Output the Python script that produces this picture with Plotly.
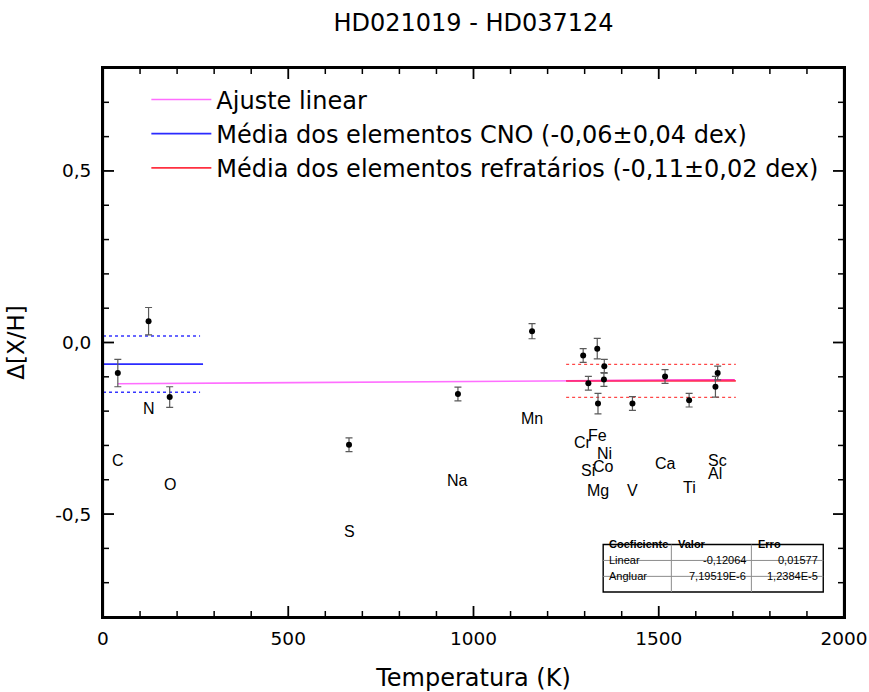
import plotly.graph_objects as go

# Differential abundances vs. 50% condensation temperature
elements = ["C", "N", "O", "S", "Na", "Mn", "Cr", "Fe", "Ni", "Co",
            "Si", "Mg", "V", "Ca", "Ti", "Sc", "Al"]
tcond = [40, 123, 180, 664, 958, 1158, 1296, 1334, 1353, 1352,
         1310, 1336, 1429, 1517, 1582, 1659, 1653]
delta_xh = [-0.089, 0.062, -0.159, -0.298, -0.150, 0.033, -0.038, -0.018, -0.069, -0.108,
            -0.119, -0.178, -0.178, -0.099, -0.168, -0.089, -0.129]
delta_err = [0.040, 0.040, 0.030, 0.020, 0.020, 0.022, 0.020, 0.030, 0.020, 0.020,
             0.020, 0.030, 0.020, 0.020, 0.020, 0.020, 0.030]

# Linear fit coefficients (intercept, slope) and their errors
fit_linear, fit_linear_err = -0.12064, 0.01577
fit_slope, fit_slope_err = 7.19519e-6, 1.2384e-5
fit_span = [40, 1705]

# Group means
cno_mean, cno_err = -0.063, 0.041
cno_span = [0, 270]
refr_mean, refr_err = -0.112, 0.024
refr_span = [1250, 1708]

# Axis ticks
x_range = [0, 2000]
y_range = [-0.8, 0.8]
x_major = [0, 500, 1000, 1500, 2000]
x_labels = ["0", "500", "1000", "1500", "2000"]
x_minor = [t for t in range(0, 2001, 100) if t % 500]
y_major = [-0.5, 0.0, 0.5]
y_labels = ["-0,5", "0,0", "0,5"]
y_minor = [round(-0.8 + 0.1 * i, 1) for i in range(17) if (i - 8) % 5]

FONT = "DejaVu Sans, Liberation Sans, sans-serif"
SMALL_FONT = "Liberation Sans, Arial, sans-serif"

W, H = 869, 692
MARGIN = dict(l=103, r=25, t=68, b=75)
PLOT_W = W - MARGIN["l"] - MARGIN["r"]
PLOT_H = H - MARGIN["t"] - MARGIN["b"]
X_PER_PX = (x_range[1] - x_range[0]) / PLOT_W
Y_PER_PX = (y_range[1] - y_range[0]) / PLOT_H


def comma(v, nd=2):
    return f"{v:.{nd}f}".replace(".", ",")


def origin_num(v):
    if abs(v) < 1e-3:
        m, e = f"{v:.6E}".split("E")
        m = m.rstrip("0").rstrip(".")
        return f"{m}E{int(e)}".replace(".", ",")
    return f"{v:.5f}".replace(".", ",")


fig = go.Figure()

# Inward tick marks on all four sides, built from the tick value lists
for major, width in ((True, 1.8), (False, 1.5)):
    tx, ty = [], []
    xs = x_major if major else x_minor
    ys = y_major if major else y_minor
    length = 11 if major else 6
    for t in xs:
        tx += [t, t, None, t, t, None]
        ty += [y_range[0], y_range[0] + length * Y_PER_PX, None,
               y_range[1], y_range[1] - length * Y_PER_PX, None]
    for v in ys:
        tx += [x_range[0], x_range[0] + length * X_PER_PX, None,
               x_range[1], x_range[1] - length * X_PER_PX, None]
        ty += [v, v, None, v, v, None]
    fig.add_trace(go.Scatter(x=tx, y=ty, mode="lines", line=dict(color="black", width=width),
                             showlegend=False, hoverinfo="skip"))

# Linear fit
fig.add_trace(go.Scatter(
    x=fit_span, y=[fit_linear + fit_slope * t for t in fit_span],
    mode="lines", line=dict(color="#ff6eff", width=1.6),
    name="Ajuste linear"))

# CNO mean and 2-sigma band
fig.add_trace(go.Scatter(
    x=cno_span, y=[cno_mean, cno_mean], mode="lines",
    line=dict(color="#2b2bff", width=1.8),
    name=f"Média dos elementos CNO ({comma(cno_mean)}±{comma(cno_err)} dex)"))
for s in (1, -1):
    fig.add_trace(go.Scatter(
        x=[cno_span[0], cno_span[1] - 8], y=[cno_mean + 2 * s * cno_err] * 2,
        mode="lines", line=dict(color="#3636ff", width=1.3, dash="dot"),
        showlegend=False, hoverinfo="skip"))

# Refractory mean and 2-sigma band
fig.add_trace(go.Scatter(
    x=refr_span, y=[refr_mean, refr_mean], mode="lines",
    line=dict(color="#ff3040", width=1.8),
    name=f"Média dos elementos refratários ({comma(refr_mean)}±{comma(refr_err)} dex)"))
for s in (1, -1):
    fig.add_trace(go.Scatter(
        x=refr_span, y=[refr_mean + 2 * s * refr_err] * 2,
        mode="lines", line=dict(color="#ff4848", width=1.3, dash="dot"),
        showlegend=False, hoverinfo="skip"))

# Fit line drawn again over the refractory mean
fig.add_trace(go.Scatter(
    x=[refr_span[0], fit_span[1]], y=[fit_linear + fit_slope * t for t in (refr_span[0], fit_span[1])],
    mode="lines", line=dict(color="#ff2aa0", width=1.4), opacity=0.8,
    showlegend=False, hoverinfo="skip"))

# Abundance points
fig.add_trace(go.Scatter(
    x=tcond, y=delta_xh, mode="markers",
    marker=dict(color="black", size=6),
    error_y=dict(type="data", array=delta_err, color="#5a5a5a", thickness=1.2, width=3.5),
    showlegend=False, text=elements))

# Element labels below each point
for el, t, v in zip(elements, tcond, delta_xh):
    fig.add_annotation(x=t, y=v, text=el, showarrow=False, yshift=-87,
                       font=dict(family=SMALL_FONT, size=16, color="black"))

# Plot frame
fig.add_shape(type="rect", xref="paper", yref="paper", x0=0, x1=1, y0=0, y1=1,
              line=dict(color="black", width=2.2), layer="above")

# Coefficient table
x0, x1, xc1, xc2 = 0.675, 0.972, 0.767, 0.875
y0, y1, yr1, yr2 = 0.0455, 0.132, 0.103, 0.074
fig.add_shape(type="rect", xref="paper", yref="paper", x0=x0, x1=x1, y0=y0, y1=y1,
              line=dict(color="black", width=1.4), fillcolor="white", layer="above")
for yy in (yr1, yr2):
    fig.add_shape(type="line", xref="paper", yref="paper", x0=x0, x1=x1, y0=yy, y1=yy,
                  line=dict(color="#8c8c8c", width=1), layer="above")
for xx in (xc1, xc2):
    fig.add_shape(type="line", xref="paper", yref="paper", x0=xx, x1=xx, y0=y0, y1=y1,
                  line=dict(color="#8c8c8c", width=1), layer="above")

table_header = ["Coeficiente", "Valor", "Erro"]
table_rows = [["Linear", origin_num(fit_linear), origin_num(fit_linear_err)],
              ["Angluar", origin_num(fit_slope), origin_num(fit_slope_err)]]
row_y = [0.1175, 0.0886, 0.0595]
tfont = dict(family=SMALL_FONT, size=11, color="black")
for i, h in enumerate(table_header):
    fig.add_annotation(xref="paper", yref="paper", x=[0.680, 0.773, 0.881][i], y=row_y[0],
                       text=f"<b>{h}</b>", showarrow=False, xanchor="left", font=tfont)
for r, row in enumerate(table_rows):
    yy = row_y[r + 1]
    fig.add_annotation(xref="paper", yref="paper", x=0.680, y=yy, text=row[0],
                       showarrow=False, xanchor="left", font=tfont)
    fig.add_annotation(xref="paper", yref="paper", x=0.871, y=yy, text=row[1],
                       showarrow=False, xanchor="right", font=tfont)
    fig.add_annotation(xref="paper", yref="paper", x=0.968, y=yy, text=row[2],
                       showarrow=False, xanchor="right", font=tfont)

axis_common = dict(
    showgrid=False, zeroline=False, showline=True, linecolor="black", linewidth=2,
    mirror=True, ticks="", automargin=False, tickmode="array",
    tickfont=dict(family=FONT, size=18.5, color="black"),
)

fig.update_layout(
    template="none",
    width=W, height=H,
    margin=MARGIN,
    paper_bgcolor="white", plot_bgcolor="white",
    font=dict(family=FONT, color="black"),
    title=dict(text="HD021019 - HD037124", x=0.5, xref="paper", y=0.968, yref="container",
               xanchor="center", yanchor="middle",
               font=dict(family=FONT, size=24, color="black")),
    xaxis=dict(range=x_range, tickvals=x_major, ticktext=x_labels, ticklabelstandoff=4,
               title=dict(text="Temperatura (K)", standoff=26,
                          font=dict(family=FONT, size=24, color="black")),
               **axis_common),
    yaxis=dict(range=y_range, tickvals=y_major, ticktext=y_labels, ticklabelstandoff=6,
               title=dict(text="Δ[X/H]", standoff=24,
                          font=dict(family=FONT, size=23, color="black")),
               **axis_common),
    legend=dict(x=0.0585, y=0.983, xanchor="left", yanchor="top",
                bgcolor="rgba(0,0,0,0)", font=dict(family=FONT, size=24, color="black"),
                itemwidth=60, tracegroupgap=0),
    showlegend=True,
)

fig.write_html("out.html")
